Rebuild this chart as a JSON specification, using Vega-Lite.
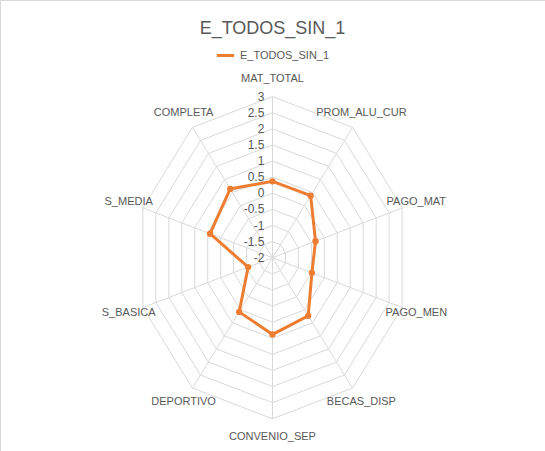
{
  "$schema": "https://vega.github.io/schema/vega-lite/v6.json",
  "width": 545,
  "height": 451,
  "autosize": "none",
  "padding": 0,
  "background": "white",
  "config": {"view": {"stroke": "#D9D9D9"}, "font": "Liberation Sans", "text": {"font": "Liberation Sans"}},
  "datasets": {
    "series": [
      {"i": 0, "name": "MAT_TOTAL", "value": 0.37, "series": "E_TODOS_SIN_1"},
      {"i": 1, "name": "PROM_ALU_CUR", "value": 0.38, "series": "E_TODOS_SIN_1"},
      {"i": 2, "name": "PAGO_MAT", "value": -0.34, "series": "E_TODOS_SIN_1"},
      {"i": 3, "name": "PAGO_MEN", "value": -0.48, "series": "E_TODOS_SIN_1"},
      {"i": 4, "name": "BECAS_DISP", "value": 0.23, "series": "E_TODOS_SIN_1"},
      {"i": 5, "name": "CONVENIO_SEP", "value": 0.38, "series": "E_TODOS_SIN_1"},
      {"i": 6, "name": "DEPORTIVO", "value": 0.08, "series": "E_TODOS_SIN_1"},
      {"i": 7, "name": "S_BASICA", "value": -1.06, "series": "E_TODOS_SIN_1"},
      {"i": 8, "name": "S_MEDIA", "value": 0.41, "series": "E_TODOS_SIN_1"},
      {"i": 9, "name": "COMPLETA", "value": 0.64, "series": "E_TODOS_SIN_1"}
    ],
    "rings": [
      {"level": -1.5, "i": [0,1,2,3,4,5,6,7,8,9]},
      {"level": -1, "i": [0,1,2,3,4,5,6,7,8,9]},
      {"level": -0.5, "i": [0,1,2,3,4,5,6,7,8,9]},
      {"level": 0, "i": [0,1,2,3,4,5,6,7,8,9]},
      {"level": 0.5, "i": [0,1,2,3,4,5,6,7,8,9]},
      {"level": 1, "i": [0,1,2,3,4,5,6,7,8,9]},
      {"level": 1.5, "i": [0,1,2,3,4,5,6,7,8,9]},
      {"level": 2, "i": [0,1,2,3,4,5,6,7,8,9]},
      {"level": 2.5, "i": [0,1,2,3,4,5,6,7,8,9]},
      {"level": 3, "i": [0,1,2,3,4,5,6,7,8,9]}
    ],
    "ticks": [
      {"level": -2}, {"level": -1.5}, {"level": -1}, {"level": -0.5}, {"level": 0},
      {"level": 0.5}, {"level": 1}, {"level": 1.5}, {"level": 2}, {"level": 2.5}, {"level": 3}
    ],
    "title": [{"t": "E_TODOS_SIN_1"}]
  },
  "layer": [
    {
      "data": {"name": "rings"},
      "transform": [
        {"flatten": ["i"]},
        {"calculate": "(datum.level + 2) * sin(datum.i * PI / 5)", "as": "x"},
        {"calculate": "(datum.level + 2) * cos(datum.i * PI / 5)", "as": "y"}
      ],
      "mark": {"type": "line", "interpolate": "linear-closed", "color": "#D9D9D9", "strokeWidth": 1},
      "encoding": {
        "x": {"field": "x", "type": "quantitative", "scale": {"domain": [-8.19, 8.22]}, "axis": null},
        "y": {"field": "y", "type": "quantitative", "scale": {"domain": [-5.81, 7.77]}, "axis": null},
        "detail": {"field": "level"},
        "order": {"field": "i"}
      }
    },
    {
      "data": {"name": "series"},
      "transform": [
        {"calculate": "5 * sin(datum.i * PI / 5)", "as": "x"},
        {"calculate": "5 * cos(datum.i * PI / 5)", "as": "y"},
        {"calculate": "0", "as": "x0"}
      ],
      "mark": {"type": "rule", "color": "#D9D9D9", "strokeWidth": 1},
      "encoding": {
        "x": {"field": "x", "type": "quantitative"},
        "y": {"field": "y", "type": "quantitative"},
        "x2": {"field": "x0"},
        "y2": {"field": "x0"}
      }
    },
    {
      "data": {"name": "ticks"},
      "transform": [
        {"calculate": "-0.3", "as": "x"},
        {"calculate": "datum.level + 2", "as": "y"}
      ],
      "mark": {"type": "text", "align": "right", "baseline": "middle", "fontSize": 12, "color": "#595959"},
      "encoding": {
        "x": {"field": "x", "type": "quantitative"},
        "y": {"field": "y", "type": "quantitative"},
        "text": {"field": "level", "type": "nominal"}
      }
    },
    {
      "data": {"name": "series"},
      "transform": [
        {"calculate": "5.55 * sin(datum.i * PI / 5)", "as": "x"},
        {"calculate": "5.55 * cos(datum.i * PI / 5)", "as": "y"},
        {"calculate": "datum.i == 0 || datum.i == 5 ? 'center' : (datum.i < 5 ? 'left' : 'right')", "as": "al"}
      ],
      "mark": {"type": "text", "baseline": "middle", "fontSize": 11, "color": "#595959"},
      "encoding": {
        "x": {"field": "x", "type": "quantitative"},
        "y": {"field": "y", "type": "quantitative"},
        "text": {"field": "name"},
        "align": {"field": "al", "type": "nominal", "scale": null}
      }
    },
    {
      "data": {"name": "series"},
      "transform": [
        {"calculate": "(datum.value + 2) * sin(datum.i * PI / 5)", "as": "x"},
        {"calculate": "(datum.value + 2) * cos(datum.i * PI / 5)", "as": "y"}
      ],
      "mark": {"type": "line", "interpolate": "linear-closed", "strokeWidth": 3, "point": {"size": 40, "filled": true}},
      "encoding": {
        "x": {"field": "x", "type": "quantitative"},
        "y": {"field": "y", "type": "quantitative"},
        "order": {"field": "i"},
        "color": {
          "field": "series", "type": "nominal",
          "scale": {"range": ["#ED7D31"]},
          "legend": {"title": null, "orient": "none", "legendX": 215, "legendY": 45, "symbolType": "stroke", "symbolStrokeWidth": 3, "symbolSize": 300, "labelFontSize": 11, "labelColor": "#595959", "labelFont": "Liberation Sans"}
        }
      }
    },
    {
      "data": {"name": "title"},
      "transform": [
        {"calculate": "0", "as": "x"},
        {"calculate": "7.1", "as": "y"}
      ],
      "mark": {"type": "text", "fontSize": 18, "color": "#595959", "baseline": "middle"},
      "encoding": {
        "x": {"field": "x", "type": "quantitative"},
        "y": {"field": "y", "type": "quantitative"},
        "text": {"field": "t"}
      }
    }
  ]
}
